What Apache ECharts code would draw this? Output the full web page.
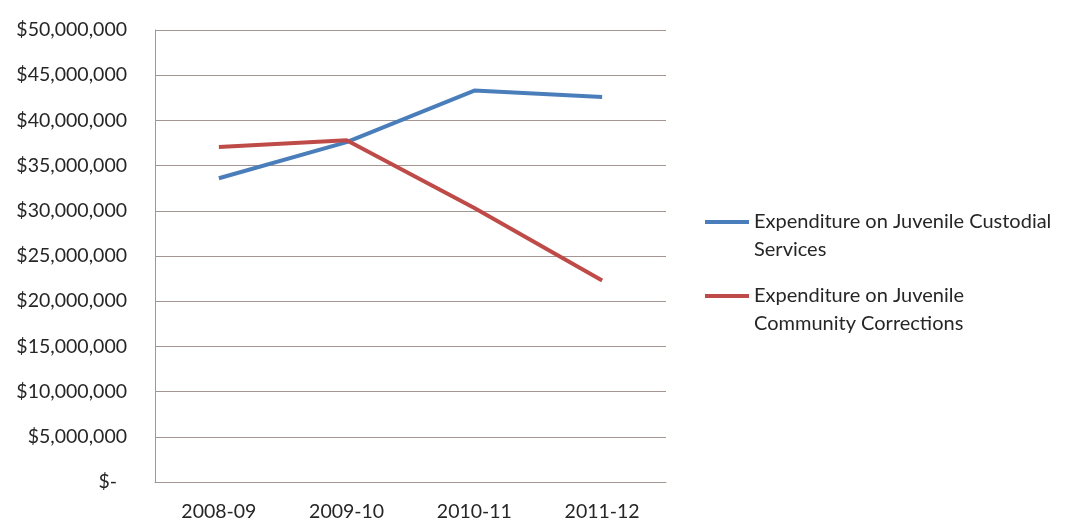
<!DOCTYPE html>
<html>
<head>
<meta charset="utf-8">
<script src="https://cdn.jsdelivr.net/npm/echarts@6/dist/echarts.min.js"></script>
<style>
  html, body { margin: 0; padding: 0; background: #fff; }
  #main { width: 1074px; height: 530px; }
</style>
</head>
<body>
<div id="main"></div>
<script>
var years = ['2008-09', '2009-10', '2010-11', '2011-12'];
var custodial = [33600000, 37600000, 43300000, 42600000];
var community = [37050000, 37800000, 30300000, 22300000];
var seriesNames = ['Expenditure on Juvenile Custodial Services', 'Expenditure on Juvenile Community Corrections'];
var legendLines = {
    'Expenditure on Juvenile Custodial Services': 'Expenditure on Juvenile Custodial\nServices',
    'Expenditure on Juvenile Community Corrections': 'Expenditure on Juvenile\nCommunity Corrections'
};

function money(v) {
    if (v === 0) {
        return '$-  ';
    }
    return '$' + String(v).replace(/\B(?=(\d{3})+(?!\d))/g, ',');
}

var chart = echarts.init(document.getElementById('main'));
var option = {
    animation: false,
    textStyle: { fontFamily: 'Lato' },
    grid: {
        left: 155,
        right: 408,
        top: 30,
        bottom: 48
    },
    legend: {
        orient: 'vertical',
        left: 705,
        top: 208,
        padding: 0,
        itemGap: 18,
        itemWidth: 44,
        itemHeight: 32,
        // line sits at the top so it lines up with the first text line
        icon: 'path://M0,0H44V4H0Z M0,32H44',
        itemStyle: { borderWidth: 0 },
        formatter: function(name) {
            return legendLines[name];
        },
        textStyle: {
            fontSize: 20,
            color: '#262626',
            lineHeight: 28
        }
    },
    xAxis: {
        type: 'category',
        data: years,
        axisTick: { show: false },
        axisLine: { lineStyle: { color: '#a39592', width: 1 } },
        axisLabel: {
            margin: 20,
            fontSize: 19.5,
            color: '#262626'
        }
    },
    yAxis: {
        type: 'value',
        min: 0,
        max: 50000000,
        interval: 5000000,
        axisLine: { show: true, lineStyle: { color: '#a39592', width: 1 } },
        axisTick: { show: false },
        splitLine: { lineStyle: { color: '#a39592', width: 1 } },
        axisLabel: {
            margin: 28,
            fontSize: 19.5,
            color: '#262626',
            formatter: money
        }
    },
    series: [{
        name: seriesNames[0],
        type: 'line',
        data: custodial,
        symbol: 'none',
        color: '#4a7ebb',
        lineStyle: { width: 4, color: '#4a7ebb' }
    }, {
        name: seriesNames[1],
        type: 'line',
        data: community,
        symbol: 'none',
        color: '#be4b48',
        lineStyle: { width: 4, color: '#be4b48' }
    }]
};
chart.setOption(option);
</script>
</body>
</html>
